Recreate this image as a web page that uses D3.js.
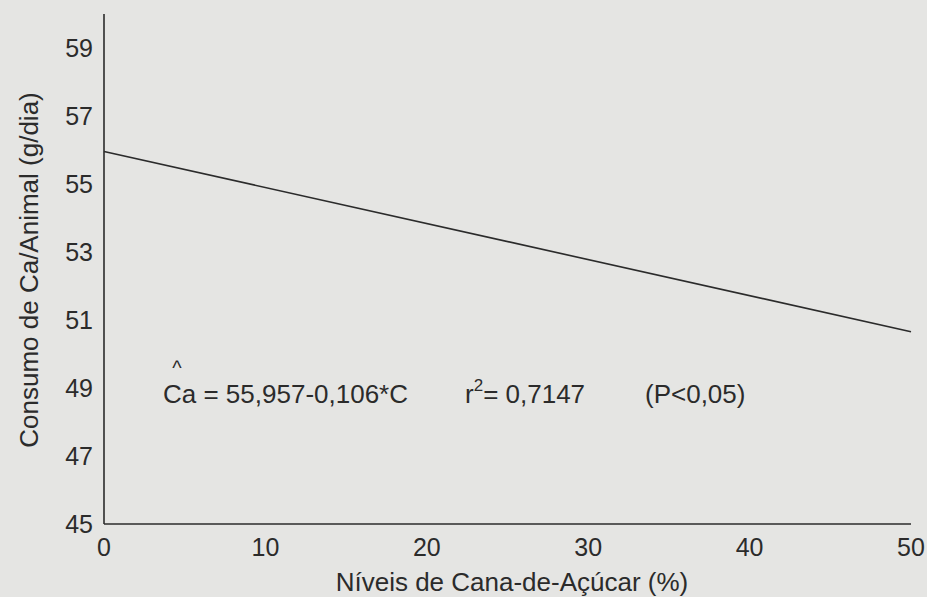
<!DOCTYPE html>
<html>
<head>
<meta charset="utf-8">
<script src="https://cdn.jsdelivr.net/npm/d3@7"></script>
<style>
  html, body { margin: 0; padding: 0; background: #e5e5e3; }
  svg { display: block; }
  text { font-family: "Liberation Sans", Arial, sans-serif; fill: #2b2b2b; }
</style>
</head>
<body>
<svg id="chart" width="927" height="597"></svg>
<script>
// Regression of Ca intake on sugar-cane level
const xTicks = [0, 10, 20, 30, 40, 50];
const yTicks = [45, 47, 49, 51, 53, 55, 57, 59];
const intercept = 55.957;
const slope = -0.106;
const fitLevels = [0, 50];
const fitValues = fitLevels.map(c => intercept + slope * c);

const equationText = "Ca = 55,957-0,106*C";
const r2Value = "= 0,7147";
const signifText = "(P<0,05)";
const xTitle = "Níveis de Cana-de-Açúcar (%)";
const yTitle = "Consumo de Ca/Animal (g/dia)";

const svg = d3.select("#chart");
const ink = "#2b2b2b";

const x = d3.scaleLinear().domain([0, 50]).range([104, 911]);
const y = d3.scaleLinear().domain([45, 60]).range([524, 14]);

// axes (lines only, no tick marks)
svg.append("line")
  .attr("x1", x(0)).attr("x2", x(0))
  .attr("y1", y(60)).attr("y2", y(45))
  .attr("stroke", ink).attr("stroke-width", 1.6);
svg.append("line")
  .attr("x1", x(0)).attr("x2", x(50))
  .attr("y1", y(45)).attr("y2", y(45))
  .attr("stroke", ink).attr("stroke-width", 1.6);

// y tick labels
svg.append("g").selectAll("text").data(yTicks).join("text")
  .attr("x", 93)
  .attr("y", d => y(d))
  .attr("dy", "0.36em")
  .attr("text-anchor", "end")
  .attr("font-size", 25)
  .text(d => d);

// x tick labels
svg.append("g").selectAll("text").data(xTicks).join("text")
  .attr("x", d => x(d))
  .attr("y", 556)
  .attr("text-anchor", "middle")
  .attr("font-size", 25)
  .text(d => d);

// axis titles
svg.append("text")
  .attr("x", 512)
  .attr("y", 591)
  .attr("text-anchor", "middle")
  .attr("font-size", 26)
  .text(xTitle);

svg.append("text")
  .attr("transform", "translate(38,270) rotate(-90)")
  .attr("text-anchor", "middle")
  .attr("font-size", 26)
  .text(yTitle);

// fitted line
const line = d3.line().x(d => x(d[0])).y(d => y(d[1]));
svg.append("path")
  .datum(fitLevels.map((c, i) => [c, fitValues[i]]))
  .attr("d", line)
  .attr("fill", "none")
  .attr("stroke", ink)
  .attr("stroke-width", 1.6);

// equation (hat over Ca)
svg.append("text")
  .attr("x", 177).attr("y", 375)
  .attr("text-anchor", "middle")
  .attr("font-size", 20)
  .text("^");
svg.append("text")
  .attr("x", 163).attr("y", 403)
  .attr("font-size", 26)
  .text(equationText);

const r2 = svg.append("text")
  .attr("x", 465).attr("y", 403)
  .attr("font-size", 26);
r2.append("tspan").text("r");
r2.append("tspan").attr("dy", -12).attr("font-size", 17).text("2");
r2.append("tspan").attr("dy", 12).text(r2Value);

svg.append("text")
  .attr("x", 645).attr("y", 403)
  .attr("font-size", 26)
  .text(signifText);
</script>
</body>
</html>
